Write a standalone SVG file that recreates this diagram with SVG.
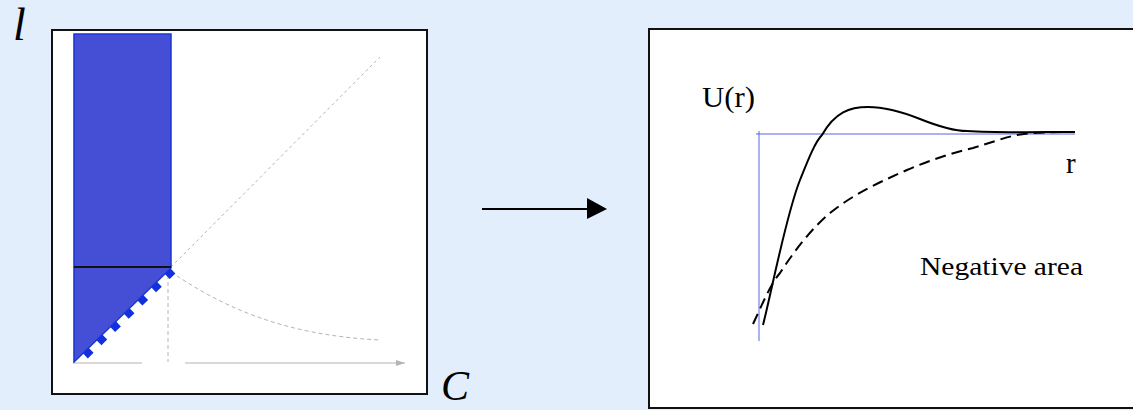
<svg xmlns="http://www.w3.org/2000/svg" width="1133" height="410" viewBox="0 0 1133 410">
<defs>
<style>
.frame{fill:#ffffff;stroke:#111111;stroke-width:2}
.lbl{fill:#000000}
.grey{fill:none;stroke:#b4b4b4;stroke-width:1}
.axisb{fill:none;stroke:#5566e6;stroke-width:1}
</style>
<marker id="ah" markerWidth="10" markerHeight="10" refX="9" refY="5" orient="auto" markerUnits="userSpaceOnUse">
<path d="M0,2 L9,5 L0,8 Z" fill="#b4b4b4"/>
</marker>
</defs>
<rect x="0" y="0" width="1133" height="410" fill="#e2eefc"/>

<g id="left-panel">
<rect class="frame" x="52" y="30" width="375" height="364"/>
<line class="grey" x1="74" y1="34" x2="74" y2="363"/>
<line class="grey" x1="74" y1="363" x2="142" y2="363"/>
<line class="grey" x1="185" y1="363" x2="405" y2="363" marker-end="url(#ah)"/>
<line class="grey" x1="168" y1="275" x2="168" y2="362" stroke-dasharray="4 3"/>
<line class="grey" x1="171" y1="267" x2="380" y2="57" stroke-dasharray="3 3"/>
<path class="grey" d="M171,272 C220,305 280,335 380,340" stroke-dasharray="4 3"/>
<polygon points="74,34 171,34 171,268 74,362" fill="#444fd6" stroke="#1a36d8" stroke-width="1.5"/>
<line x1="74" y1="267" x2="171" y2="267" stroke="#111111" stroke-width="2"/>
<line x1="173" y1="271" x2="78" y2="363" stroke="#1230e0" stroke-width="7" stroke-dasharray="8 11"/>
</g>

<g id="label-l"><text class="lbl" x="13" y="40" font-family="'Liberation Serif','DejaVu Serif',serif" font-size="46" font-style="italic">l</text></g>
<g id="label-C"><text class="lbl" x="441" y="400" font-family="'Liberation Serif','DejaVu Serif',serif" font-size="42" font-style="italic">C</text></g>

<g id="connectors">
<line x1="482" y1="209" x2="588" y2="209" stroke="#000000" stroke-width="2"/>
<polygon points="587,198 607,209 587,219" fill="#000000"/>
</g>

<g id="right-panel">
<rect class="frame" x="649" y="29" width="500" height="379"/>
<line class="axisb" x1="759" y1="131" x2="759" y2="341"/>
<line class="axisb" x1="756" y1="134" x2="1075" y2="134"/>
<path d="M763,325 C772,290 786,215 800,180 C808,160 815,142 822,135 C835,112 850,107 868,107 C885,107 905,113 920,119 C940,127 955,131 967,131 C1000,133 1040,132 1075,132" fill="none" stroke="#000000" stroke-width="2"/>
<path d="M753,324 C762,305 770,285 780,273 C795,250 812,228 830,213 C855,193 880,182 907,170 C930,160 952,153 973,148 C990,143 1003,138 1017,135 C1035,132 1055,132 1073,132" fill="none" stroke="#000000" stroke-width="2" stroke-dasharray="11 6"/>
<text class="lbl" x="702" y="107" font-family="'Liberation Serif','DejaVu Serif',serif" font-size="29" textLength="53" lengthAdjust="spacingAndGlyphs">U(r)</text>
<text class="lbl" x="1066" y="173" font-family="'Liberation Serif','DejaVu Serif',serif" font-size="29">r</text>
<text class="lbl" x="920" y="275" font-family="'Liberation Serif','DejaVu Serif',serif" font-size="25" textLength="163" lengthAdjust="spacingAndGlyphs">Negative area</text>
</g>
</svg>
